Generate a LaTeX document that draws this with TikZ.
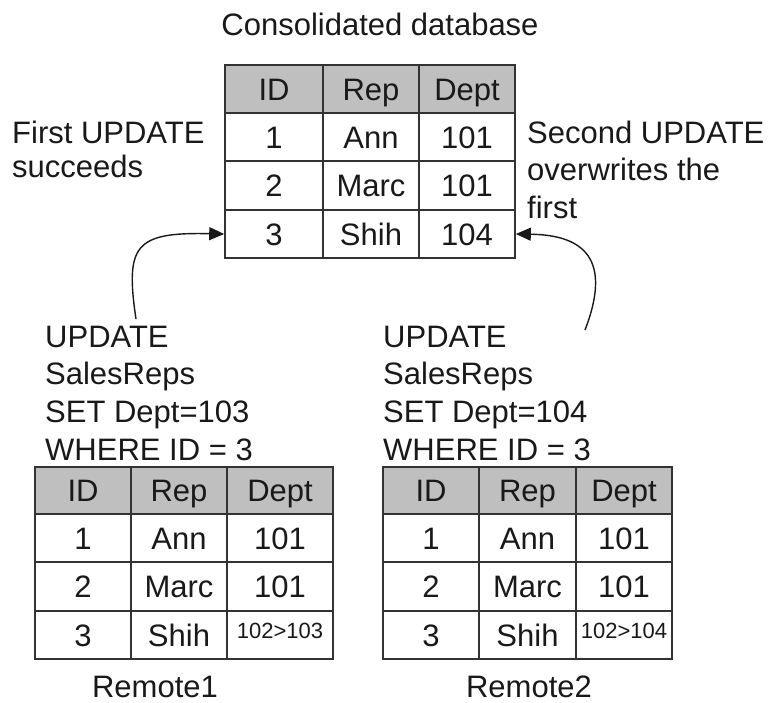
\documentclass[tikz,border=0pt]{standalone}
\usepackage{fontspec}
\setmainfont{Liberation Sans}
\usetikzlibrary{arrows.meta}
\tikzset{
  cell/.style={draw=black!80, line width=1.6pt, inner sep=0pt, minimum height=48pt,
    text height=22.2pt, text depth=0pt, font=\fontsize{31}{37}\selectfont, text=black!90},
  hcell/.style={cell, fill=black!25},
  small/.style={font=\fontsize{22}{26}\selectfont, text height=16pt, text depth=10pt},
  lbl/.style={anchor=base west, inner sep=0pt, font=\fontsize{31}{37}\selectfont, text=black!90},
  clbl/.style={anchor=base, inner sep=0pt, text depth=0pt, font=\fontsize{31}{37}\selectfont, text=black!90},
  flow/.style={line width=1.4pt, black!90, -{Triangle[length=15pt,width=13pt]}}
}
\begin{document}
\begin{tikzpicture}[x=1pt,y=-1pt]
\useasboundingbox (0,0) rectangle (773,702);
% title
\node[clbl] (title) at (380,35) {Consolidated database};
% top table
\node[hcell, minimum width=98pt] (t00) at (274,89) {ID};
\node[hcell, minimum width=96pt] (t01) at (371,89) {Rep};
\node[hcell, minimum width=96pt] (t02) at (467,89) {Dept};
\node[cell, minimum width=98pt] (t10) at (274,137) {1};
\node[cell, minimum width=96pt] (t11) at (371,137) {Ann};
\node[cell, minimum width=96pt] (t12) at (467,137) {101};
\node[cell, minimum width=98pt, minimum height=49pt] (t20) at (274,185.5) {2};
\node[cell, minimum width=96pt, minimum height=49pt] (t21) at (371,185.5) {Marc};
\node[cell, minimum width=96pt, minimum height=49pt] (t22) at (467,185.5) {101};
\node[cell, minimum width=98pt] (t30) at (274,234) {3};
\node[cell, minimum width=96pt] (t31) at (371,234) {Shih};
\node[cell, minimum width=96pt] (t32) at (467,234) {104};
% side labels
\node[lbl] (fa) at (12,143) {First UPDATE};
\node[lbl] (fb) at (12,177) {succeeds};
\node[lbl] (sa) at (527,143) {Second UPDATE};
\node[lbl] (sb) at (527,180) {overwrites the};
\node[lbl] (sc) at (527,218) {first};
% update statements
\node[lbl] (la) at (45,347) {UPDATE};
\node[lbl] (lb) at (45,384) {SalesReps};
\node[lbl] (lc) at (45,422) {SET Dept=103};
\node[lbl] (ld) at (45,460) {WHERE ID = 3};
\node[lbl] (ra) at (383,347) {UPDATE};
\node[lbl] (rb) at (383,384) {SalesReps};
\node[lbl] (rc) at (383,422) {SET Dept=104};
\node[lbl] (rd) at (383,460) {WHERE ID = 3};
% left remote table
\node[hcell, minimum width=96pt, minimum height=47pt] (a00) at (83,490.5) {ID};
\node[hcell, minimum width=96pt, minimum height=47pt] (a01) at (179,490.5) {Rep};
\node[hcell, minimum width=106pt, minimum height=47pt] (a02) at (280,490.5) {Dept};
\node[cell, minimum width=96pt] (a10) at (83,538) {1};
\node[cell, minimum width=96pt] (a11) at (179,538) {Ann};
\node[cell, minimum width=106pt] (a12) at (280,538) {101};
\node[cell, minimum width=96pt, minimum height=49pt] (a20) at (83,586.5) {2};
\node[cell, minimum width=96pt, minimum height=49pt] (a21) at (179,586.5) {Marc};
\node[cell, minimum width=106pt, minimum height=49pt] (a22) at (280,586.5) {101};
\node[cell, minimum width=96pt] (a30) at (83,635) {3};
\node[cell, minimum width=96pt] (a31) at (179,635) {Shih};
\node[cell, small, minimum width=106pt] (a32) at (280,635) {102>103};
% right remote table
\node[hcell, minimum width=96pt, minimum height=47pt] (b00) at (431,490.5) {ID};
\node[hcell, minimum width=97pt, minimum height=47pt] (b01) at (527.5,490.5) {Rep};
\node[hcell, minimum width=96pt, minimum height=47pt] (b02) at (624,490.5) {Dept};
\node[cell, minimum width=96pt] (b10) at (431,538) {1};
\node[cell, minimum width=97pt] (b11) at (527.5,538) {Ann};
\node[cell, minimum width=96pt] (b12) at (624,538) {101};
\node[cell, minimum width=96pt, minimum height=49pt] (b20) at (431,586.5) {2};
\node[cell, minimum width=97pt, minimum height=49pt] (b21) at (527.5,586.5) {Marc};
\node[cell, minimum width=96pt, minimum height=49pt] (b22) at (624,586.5) {101};
\node[cell, minimum width=96pt] (b30) at (431,635) {3};
\node[cell, minimum width=97pt] (b31) at (527.5,635) {Shih};
\node[cell, small, minimum width=96pt] (b32) at (624,635) {102>104};
% captions
\node[clbl] (r1) at (155,697) {Remote1};
\node[clbl] (r2) at (529,697) {Remote2};
% arrows
\coordinate (s1) at (136,319);
\coordinate (s2) at (585,330);
\draw[flow] (s1) .. controls (125,245) and (135,232) .. (t30.west);
\draw[flow] (s2) .. controls (612,260) and (585,235) .. (t32.east);
\end{tikzpicture}
\end{document}
